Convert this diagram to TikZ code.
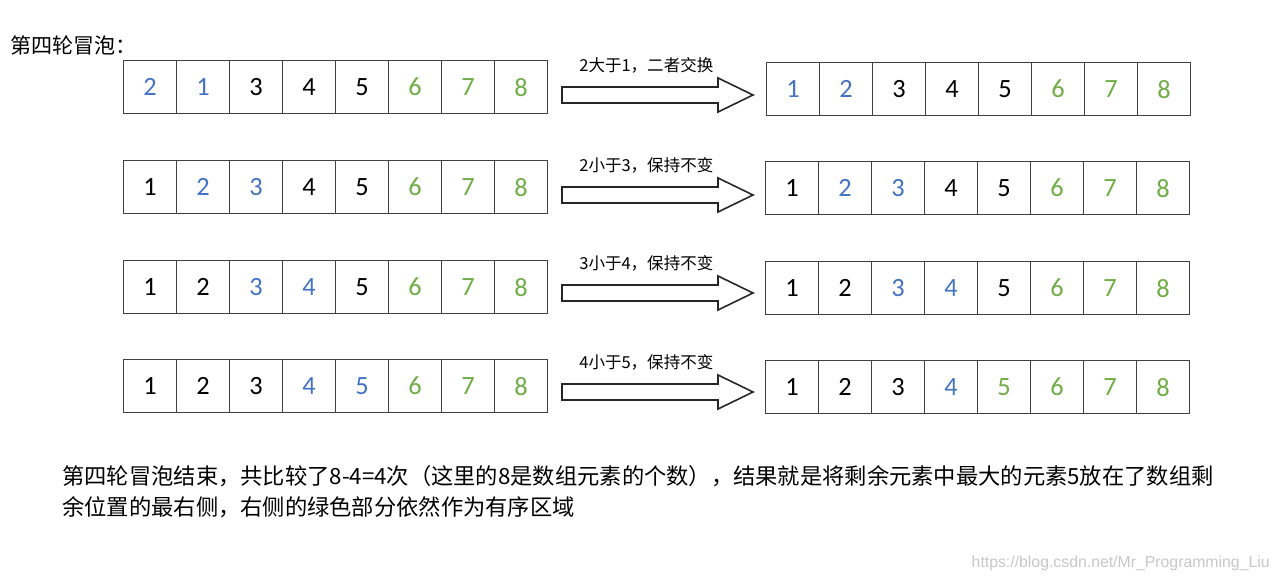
\documentclass[tikz,border=0pt]{standalone}
\usepackage{fontspec}
\setmainfont{Carlito}
\newfontfamily\cjk{Noto Sans CJK SC}
\newfontfamily\urlfont{Liberation Sans}
\usepackage{xcolor}
\definecolor{cellblue}{HTML}{4472C4}
\definecolor{cellgreen}{HTML}{70AD47}
\definecolor{cellline}{HTML}{404040}

\tikzset{
  cell/.style={draw=cellline, line width=0.7pt, minimum size=1.06cm, inner sep=0pt,
    anchor=north west, font=\fontsize{15}{18}\selectfont},
  bigarrow/.style={draw=black!85, line width=0.9pt, fill=white},
  steplabel/.style={anchor=west, inner sep=0pt, font=\cjk\fontsize{9.4}{11}\selectfont},
}

\begin{document}
\begin{tikzpicture}[x=0.02cm, y=-0.02cm]
  \useasboundingbox (0,0) rectangle (1280,580);
  \node [anchor=west, inner sep=0pt, font=\cjk\fontsize{12}{14}\selectfont] (title) at (10,45) {第四轮冒泡：};
  % arrays before and after each comparison
  \foreach \side/\x/\y/\row in {
      l1/123/60/{2/cellblue,1/cellblue,3/black,4/black,5/black,6/cellgreen,7/cellgreen,8/cellgreen},
      r1/766/62/{1/cellblue,2/cellblue,3/black,4/black,5/black,6/cellgreen,7/cellgreen,8/cellgreen},
      l2/123/160/{1/black,2/cellblue,3/cellblue,4/black,5/black,6/cellgreen,7/cellgreen,8/cellgreen},
      r2/765/161/{1/black,2/cellblue,3/cellblue,4/black,5/black,6/cellgreen,7/cellgreen,8/cellgreen},
      l3/123/260/{1/black,2/black,3/cellblue,4/cellblue,5/black,6/cellgreen,7/cellgreen,8/cellgreen},
      r3/765/261/{1/black,2/black,3/cellblue,4/cellblue,5/black,6/cellgreen,7/cellgreen,8/cellgreen},
      l4/123/359/{1/black,2/black,3/black,4/cellblue,5/cellblue,6/cellgreen,7/cellgreen,8/cellgreen},
      r4/765/360/{1/black,2/black,3/black,4/cellblue,5/cellgreen,6/cellgreen,7/cellgreen,8/cellgreen}} {
    \foreach \v/\c [count=\i from 0] in \row {
      \node [cell, text=\c] (\side-\i) at (\x+53*\i,\y) {\v};
    }
  }
  % block arrows with their labels
  \foreach \y/\txt [count=\k] in {95/{2大于1，二者交换}, 195/{2小于3，保持不变},
      293/{3小于4，保持不变}, 392/{4小于5，保持不变}} {
    \draw [bigarrow] (562,\y-8) -- (718,\y-8) -- (718,\y-17) -- (753,\y)
      -- (718,\y+17) -- (718,\y+8) -- (562,\y+8) -- cycle;
    \node [steplabel] (lbl\k) at (579,\y-30) {\txt};
  }
  \node [anchor=north west, inner sep=0pt, align=left,
    font=\cjk\fontsize{12.68}{17.6}\selectfont] (summary) at (62,465)
    {第四轮冒泡结束，共比较了8-4=4次（这里的8是数组元素的个数），结果就是将剩余元素中最大的元素5放在了数组剩\\
     余位置的最右侧，右侧的绿色部分依然作为有序区域};
  \node [anchor=east, inner sep=0pt, text=black!22, font=\urlfont\fontsize{9}{11}\selectfont]
    (mark) at (1270,563) {https://blog.csdn.net/Mr\_Programming\_Liu};
\end{tikzpicture}
\end{document}
